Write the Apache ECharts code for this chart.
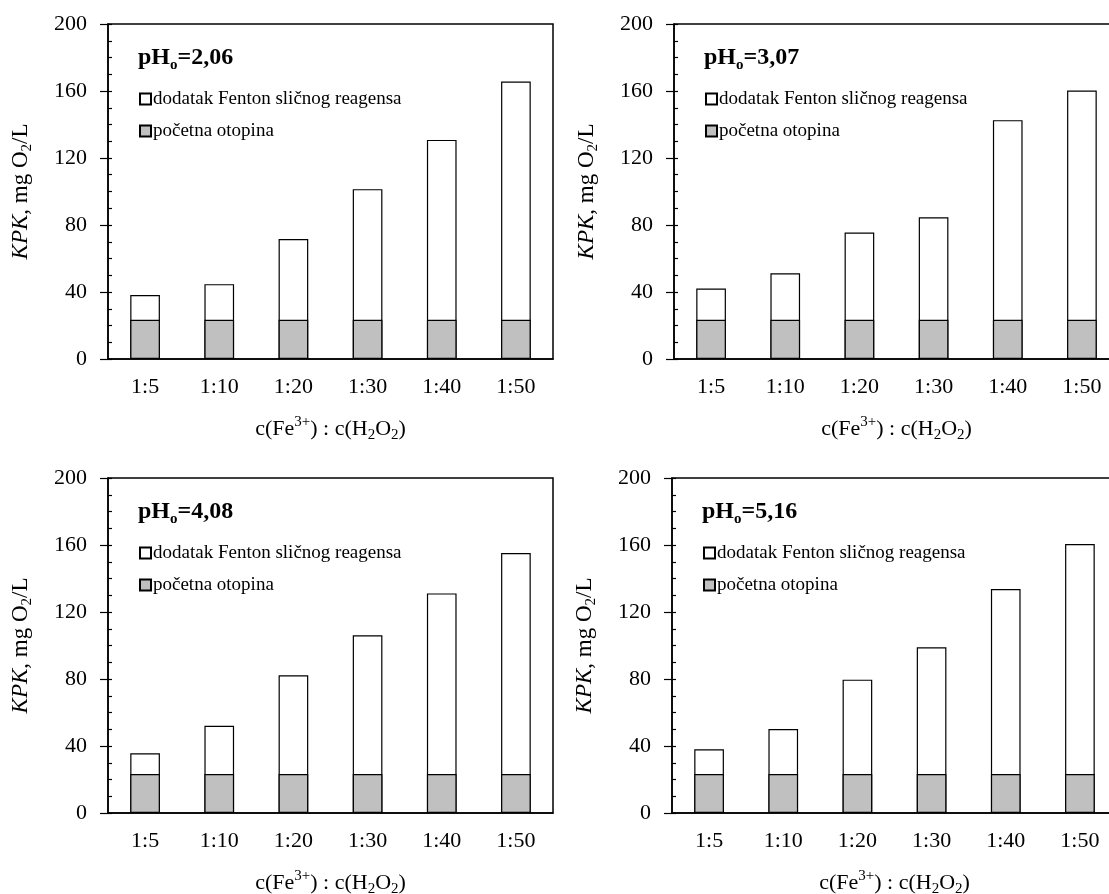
<!DOCTYPE html>
<html>
<head>
<meta charset="utf-8">
<script src="https://cdn.jsdelivr.net/npm/echarts@6/dist/echarts.min.js"></script>
<style>
html,body{margin:0;padding:0;background:#fff;overflow:hidden;}
#chart{width:1109px;height:894px;}
</style>
</head>
<body>
<div id="chart"></div>
<script>
// ---- data ----
const categories = ['1:5', '1:10', '1:20', '1:30', '1:40', '1:50'];
const phLabels = ['2,06', '3,07', '4,08', '5,16'];
const seriesNames = ['dodatak Fenton sličnog reagensa', 'početna otopina'];
// total KPK (top of white bars), mg O2/L
const totalPh206 = [38.2, 44.7, 71.6, 101.4, 130.8, 165.6];
const totalPh307 = [42.1, 51.2, 75.5, 84.6, 142.6, 160.3];
const totalPh408 = [35.6, 52.1, 82.2, 106.1, 131.1, 155.2];
const totalPh516 = [38.0, 50.1, 79.6, 98.9, 133.7, 160.6];
// initial solution KPK (grey bars)
const basePh206 = [23.4, 23.4, 23.4, 23.4, 23.4, 23.4];
const basePh307 = [23.4, 23.4, 23.4, 23.4, 23.4, 23.4];
const basePh408 = [23.3, 23.3, 23.3, 23.3, 23.3, 23.3];
const basePh516 = [23.3, 23.3, 23.3, 23.3, 23.3, 23.3];
const yTicks = [0, 40, 80, 120, 160, 200];

const totals = [totalPh206, totalPh307, totalPh408, totalPh516];
const bases = [basePh206, basePh307, basePh408, basePh516];

// ---- layout ----
const FONT = 'Liberation Serif';
const panels = [
  {left: 108, top: 24, height: 335},
  {left: 674, top: 24, height: 335},
  {left: 108, top: 478, height: 335},
  {left: 672, top: 478, height: 335}
];
const GW = 445;

const chart = echarts.init(document.getElementById('chart'), null, {renderer: 'canvas'});

const grid = [], xAxis = [], yAxis = [], series = [], title = [], legend = [];
panels.forEach((p, i) => {
  grid.push({left: p.left, top: p.top, width: GW, height: p.height, show: true,
    borderColor: '#000', borderWidth: 1.5, backgroundColor: 'transparent',
    containLabel: false, outerBoundsMode: 'none'});
  xAxis.push({
    type: 'category', gridIndex: i, data: categories,
    axisLine: {lineStyle: {color: '#000', width: 1.5}},
    axisTick: {show: false},
    axisLabel: {color: '#000', fontFamily: FONT, fontSize: 22, margin: 17},
    name: '{n|c(Fe}{sup|3+}{n|) : c(H}{sub|2}{n|O}{sub|2}{n|)}',
    nameLocation: 'middle', nameGap: 56,
    nameTextStyle: {
      color: '#000', fontFamily: FONT, fontSize: 22,
      rich: {
        n: {fontFamily: FONT, fontSize: 22, color: '#000', lineHeight: 28},
        sup: {fontFamily: FONT, fontSize: 15, color: '#000', lineHeight: 13, verticalAlign: 'top'},
        sub: {fontFamily: FONT, fontSize: 15, color: '#000', lineHeight: 10, verticalAlign: 'bottom'}
      }
    }
  });
  yAxis.push({
    type: 'value', gridIndex: i, min: 0, max: 200, interval: 40,
    axisLine: {show: true, lineStyle: {color: '#000', width: 1.5}},
    axisTick: {show: true, inside: false, length: 8, lineStyle: {color: '#000', width: 1.2}},
    splitLine: {show: false},
    axisLabel: {color: '#000', fontFamily: FONT, fontSize: 22, margin: 21,
      formatter: v => (yTicks.indexOf(v) >= 0 ? String(v) : '')},
    name: '{i|KPK}{n|, mg O}{sub|2}{n|/L}',
    nameLocation: 'middle', nameRotate: 90, nameGap: 73,
    nameTextStyle: {
      color: '#000', fontFamily: FONT, fontSize: 23,
      rich: {
        i: {fontFamily: FONT, fontSize: 23, fontStyle: 'italic', color: '#000', lineHeight: 28},
        n: {fontFamily: FONT, fontSize: 23, color: '#000', lineHeight: 28},
        sub: {fontFamily: FONT, fontSize: 15, color: '#000', lineHeight: 10, verticalAlign: 'bottom'}
      }
    }
  });
  // minor ticks inside
  yAxis.push({
    type: 'value', gridIndex: i, min: 0, max: 200, interval: 10, position: 'left',
    axisLine: {show: false},
    axisTick: {show: true, inside: true, length: 4, lineStyle: {color: '#000', width: 1.2}},
    axisLabel: {show: false}, splitLine: {show: false}
  });
  const yIdx = i * 2;
  series.push({
    name: seriesNames[0], type: 'bar', xAxisIndex: i, yAxisIndex: yIdx,
    data: totals[i], barWidth: '40%', barGap: '-100%',
    itemStyle: {color: '#ffffff', borderColor: '#000', borderWidth: 1.2},
    silent: true, animation: false
  });
  series.push({
    name: seriesNames[1], type: 'bar', xAxisIndex: i, yAxisIndex: yIdx,
    data: bases[i], barWidth: '40%', barGap: '-100%',
    itemStyle: {color: '#c0c0c0', borderColor: '#000', borderWidth: 1.2},
    silent: true, animation: false
  });
  title.push({
    text: '{b|pH}{s|o}{b|=' + phLabels[i] + '}',
    left: p.left + 25, top: p.top + 14,
    textStyle: {
      rich: {
        b: {fontFamily: FONT, fontSize: 24, fontWeight: 'bold', color: '#000', lineHeight: 30},
        s: {fontFamily: FONT, fontSize: 15, fontWeight: 'bold', color: '#000', lineHeight: 11, verticalAlign: 'bottom'}
      }
    }
  });
  legend.push({
    data: seriesNames, orient: 'vertical', left: p.left + 26, top: p.top + 59,
    icon: 'rect', itemWidth: 11, itemHeight: 11, itemGap: 10,
    selectedMode: false,
    textStyle: {fontFamily: FONT, fontSize: 19, color: '#000', lineHeight: 22, padding: [0, 0, 0, -3]}
  });
});

chart.setOption({
  animation: false,
  backgroundColor: '#fff',
  grid, xAxis, yAxis, series, title, legend
});
</script>
</body>
</html>
